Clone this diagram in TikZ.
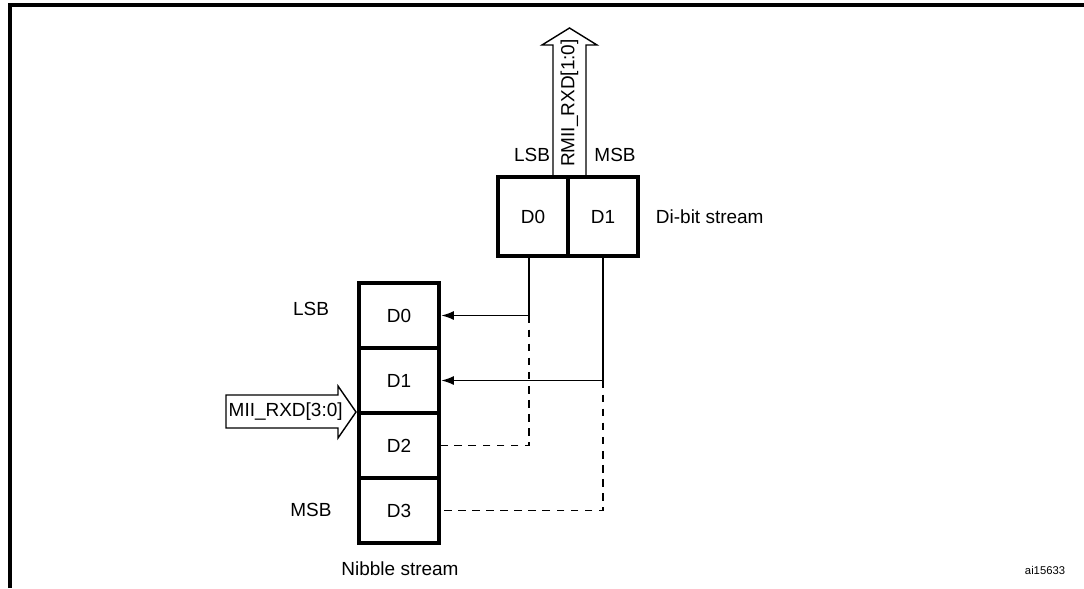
\documentclass[tikz,border=0pt]{standalone}
\usepackage{fontspec}
\setmainfont{Liberation Sans}
\usetikzlibrary{arrows.meta}
\tikzset{
  cell/.style={draw, line width=3.3pt, minimum width=1.75cm, minimum height=1.975cm, inner sep=0pt},
  ncell/.style={cell, minimum width=2cm, minimum height=1.625cm},
  wire/.style={line width=1.1pt},
  link/.style={wire, -{Latex[length=9pt,width=6.5pt]}},
  dwire/.style={wire, dash pattern=on 5.5pt off 4.5pt},
  blockarrow/.style={line width=1pt, fill=white, line join=miter}
}
\begin{document}
\begin{tikzpicture}[x=0.025cm, y=-0.025cm, every node/.style={font=\fontsize{13.5}{15}\selectfont}]
	\useasboundingbox (0,0) rectangle (1084,588);
	% 1. frame
	\draw[line width=2.2pt] (10,588) -- (10,5) -- (1084,5);
	
	% 2. di-bit stream
	\draw[blockarrow] (553,177) -- (553,45) -- (542,45) -- (569.5,28) -- (597,45) -- (586,45) -- (586,177);
	\node[rotate=90] (rmii) at (569.5,103) {RMII\_RXD[1:0]};
	\node (lsbtop) at (532,155) {LSB};
	\node (msbtop) at (615,155) {MSB};
	\node[cell] (d0) at (533,216.5) {D0};
	\node[cell] (d1) at (603,216.5) {D1};
	\node[anchor=west] (dibit) at (651,216.5) {Di-bit stream};
	
	% 3. nibble stream
	\node[ncell] (n0) at (399,315.5) {D0};
	\node[ncell] (n1) at (399,380.5) {D1};
	\node[ncell] (n2) at (399,445.5) {D2};
	\node[ncell] (n3) at (399,510.5) {D3};
	\node (lsb) at (311,309) {LSB};
	\node (msb) at (311,510) {MSB};
	\node (nibble) at (400,569) {Nibble stream};
	\draw[blockarrow] (226,395) -- (338,395) -- (338,386) -- (356,412) -- (338,438) -- (338,428) -- (226,428) -- cycle;
	\node[anchor=west, inner sep=1pt] (mii) at (227,411.5) {MII\_RXD[3:0]};
	
	% 4. connectors
	\draw[link] ([xshift=-0.1cm]d0.south) |- (n0.east);
	\draw[dwire] ([xshift=-0.1cm]d0.south |- n0.east) |- (n2.east);
	\draw[link] (d1.south) |- (n1.east);
	\draw[dwire] (d1.south |- n1.east) |- (n3.east);
	
	\node[font=\fontsize{8}{10}\selectfont] (ref) at (1045,570) {ai15633};
\end{tikzpicture}
\end{document}
